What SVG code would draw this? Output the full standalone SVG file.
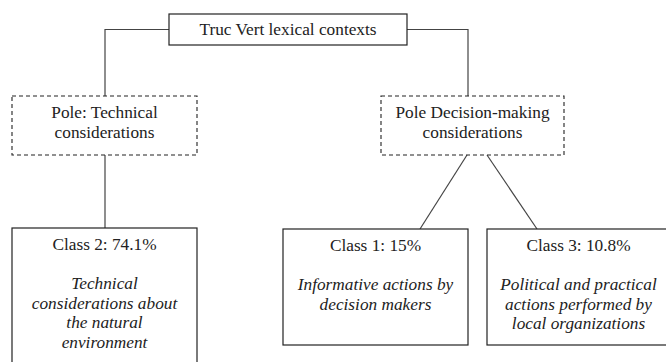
<svg xmlns="http://www.w3.org/2000/svg" width="666" height="362" viewBox="0 0 666 362">
<style>
  .box{fill:#fff;stroke:#222;stroke-width:1.2}
  .dash{fill:#fff;stroke:#222;stroke-width:1.1;stroke-dasharray:4 3}
  .conn{fill:none;stroke:#444;stroke-width:1.2}
  .t{font-family:"Liberation Serif",serif;font-size:17.3px;fill:#222;text-anchor:middle}
  .it{font-style:italic}
</style>
<rect width="666" height="362" fill="#fff"/>
<g id="connectors">
  <polyline class="conn" points="169,29.5 105,29.5 105,96"/>
  <polyline class="conn" points="407,29.5 468,29.5 468,96"/>
  <line class="conn" x1="105" y1="155" x2="105" y2="228"/>
  <line class="conn" x1="467" y1="155" x2="420" y2="229"/>
  <line class="conn" x1="487" y1="155" x2="537" y2="229"/>
</g>
<g id="root">
  <rect class="box" x="169" y="14" width="238" height="31"/>
  <text class="t" x="288" y="35">Truc Vert lexical contexts</text>
</g>
<g id="pole-technical">
  <rect class="dash" x="12" y="96" width="185" height="59"/>
  <text class="t" x="104.5" y="118">Pole: Technical</text>
  <text class="t" x="104.5" y="138">considerations</text>
</g>
<g id="pole-decision">
  <rect class="dash" x="381" y="96" width="183" height="59"/>
  <text class="t" x="472.5" y="118">Pole Decision-making</text>
  <text class="t" x="472.5" y="138">considerations</text>
</g>
<g id="class2">
  <rect class="box" x="12" y="228" width="185" height="150"/>
  <text class="t" x="104.5" y="250">Class 2: 74.1%</text>
  <text class="t it" x="104.5" y="289">Technical</text>
  <text class="t it" x="104.5" y="308.5">considerations about</text>
  <text class="t it" x="104.5" y="328">the natural</text>
  <text class="t it" x="104.5" y="347.5">environment</text>
</g>
<g id="class1">
  <rect class="box" x="283" y="229" width="185" height="116"/>
  <text class="t" x="375.5" y="251">Class 1: 15%</text>
  <text class="t it" x="375.5" y="290">Informative actions by</text>
  <text class="t it" x="375.5" y="309.5">decision makers</text>
</g>
<g id="class3">
  <rect class="box" x="487" y="229" width="184" height="116"/>
  <text class="t" x="578.5" y="251">Class 3: 10.8%</text>
  <text class="t it" x="578.5" y="290">Political and practical</text>
  <text class="t it" x="578.5" y="309.5">actions performed by</text>
  <text class="t it" x="578.5" y="329">local organizations</text>
</g>
</svg>
